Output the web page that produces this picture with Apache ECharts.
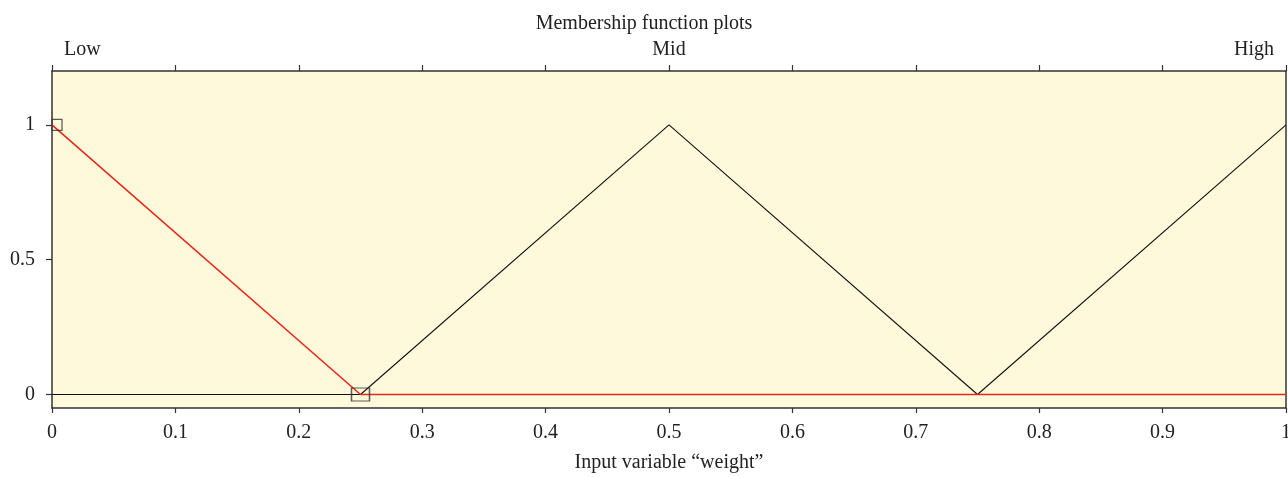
<!DOCTYPE html>
<html>
<head>
<meta charset="UTF-8">
<title>Membership function plots</title>
<script src="https://cdn.jsdelivr.net/npm/echarts@6/dist/echarts.min.js"></script>
<style>
  html, body { margin: 0; padding: 0; background: #fff; }
  #chart { width: 1288px; height: 477px; }
</style>
</head>
<body>
<div id="chart"></div>
<script>
// membership functions of input "weight"
var mfNames = ['Low', 'Mid', 'High'];
var lowX = [0, 0.25, 1];
var lowY = [1, 0, 0];
var midX = [0, 0.25, 0.5, 0.75, 1];
var midY = [0, 0, 1, 0, 0];
var highX = [0, 0.75, 1];
var highY = [0, 0, 1];
// selected vertices (square markers)
var markX = [0, 0.25];
var markY = [1, 0];
var yTicks = [0, 0.5, 1];

function pairs(xs, ys) {
    var res = [];
    for (var i = 0; i < xs.length; i++) res.push([xs[i], ys[i]]);
    return res;
}

var font = '"Liberation Serif", "DejaVu Serif", serif';
var fs = 20;
var axisColor = '#333';

var chart = echarts.init(document.getElementById('chart'));

var option = {
    animation: false,
    backgroundColor: '#fff',
    title: {
        text: 'Membership function plots',
        left: 'center',
        top: 9,
        textStyle: { fontFamily: font, fontSize: fs, fontWeight: 'normal', color: '#222' }
    },
    grid: {
        left: 52, right: 2, top: 71, bottom: 69,
        outerBoundsMode: 'none',
        containLabel: false,
        show: true,
        backgroundColor: '#fef9da',
        borderWidth: 0
    },
    xAxis: [
        {
            type: 'value', position: 'bottom',
            min: 0, max: 1, interval: 0.1,
            name: 'Input variable \u201cweight\u201d',
            nameLocation: 'middle', nameGap: 45,
            nameTextStyle: { fontFamily: font, fontSize: fs, color: '#222' },
            axisLine: { show: true, onZero: false, lineStyle: { color: axisColor, width: 1.5 } },
            axisTick: { show: true, inside: false, length: 5, lineStyle: { color: axisColor, width: 1.2 } },
            axisLabel: { margin: 15, fontFamily: font, fontSize: fs, color: '#222' },
            splitLine: { show: false }
        },
        {
            type: 'value', position: 'top',
            min: 0, max: 1, interval: 0.1,
            axisLine: { show: true, onZero: false, lineStyle: { color: axisColor, width: 1.5 } },
            axisTick: { show: true, inside: false, length: 6, lineStyle: { color: axisColor, width: 1.2 } },
            axisLabel: {
                show: true, margin: 11,
                alignMinLabel: 'left', alignMaxLabel: 'right',
                fontFamily: font, fontSize: fs, color: '#222',
                customValues: [0, 0.5, 1],
                formatter: function (v) {
                    if (v === 0) return '{l|' + mfNames[0] + '}';
                    if (v === 1) return '{r|' + mfNames[2] + '}';
                    return mfNames[1];
                },
                rich: {
                    l: { fontFamily: font, fontSize: fs, color: '#222', padding: [0, 0, 0, 12] },
                    r: { fontFamily: font, fontSize: fs, color: '#222', padding: [0, 12, 0, 0] }
                }
            },
            splitLine: { show: false }
        }
    ],
    yAxis: [
        {
            type: 'value', position: 'left',
            min: -0.05, max: 1.2,
            axisLine: { show: true, onZero: false, lineStyle: { color: axisColor, width: 1.5 } },
            axisTick: { show: true, inside: false, length: 6, customValues: yTicks, lineStyle: { color: axisColor, width: 1.2 } },
            axisLabel: { margin: 17, fontFamily: font, fontSize: fs, color: '#222', customValues: yTicks },
            splitLine: { show: false }
        },
        {
            type: 'value', position: 'right',
            min: -0.05, max: 1.2,
            axisLine: { show: true, onZero: false, lineStyle: { color: axisColor, width: 1.5 } },
            axisTick: { show: false },
            axisLabel: { show: false },
            splitLine: { show: false }
        }
    ],
    series: [
        {
            name: mfNames[1], type: 'line', data: pairs(midX, midY),
            showSymbol: false, z: 2,
            lineStyle: { color: '#111', width: 1.1 }
        },
        {
            name: mfNames[2], type: 'line', data: pairs(highX, highY),
            showSymbol: false, z: 2,
            lineStyle: { color: '#111', width: 1.1 }
        },
        {
            name: mfNames[0], type: 'line', data: pairs(lowX, lowY),
            showSymbol: false, z: 3,
            lineStyle: { color: '#e8281c', width: 1.6 }
        },
        {
            name: 'vertices', type: 'scatter', z: 4,
            data: pairs(markX, markY).map(function (p, i) {
                return {
                    value: p,
                    symbolSize: i === 0 ? [10, 11] : [18, 13],
                    symbolOffset: i === 0 ? [5, 0] : [0, 0]
                };
            }),
            symbol: 'rect',
            itemStyle: { color: 'rgba(0,0,0,0)', borderColor: '#333', borderWidth: 1.3 }
        }
    ]
};

chart.setOption(option);
</script>
</body>
</html>
